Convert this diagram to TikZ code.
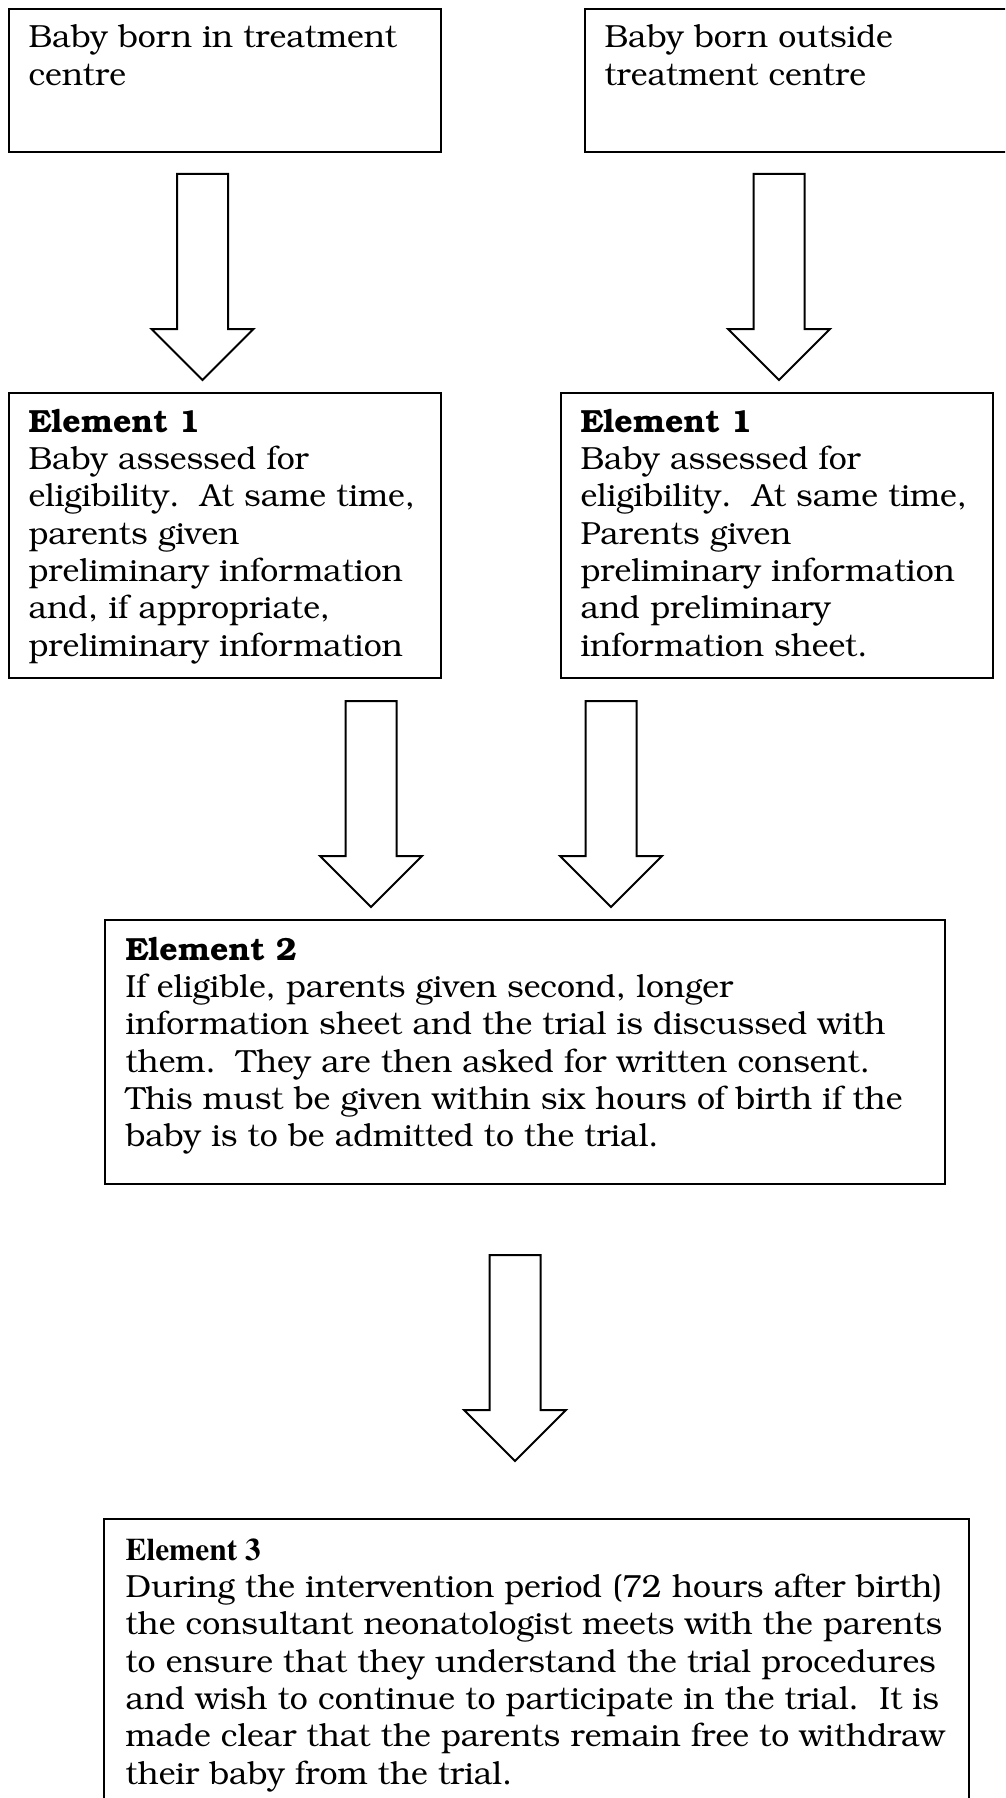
\documentclass[tikz,border=0pt]{standalone}
\usepackage[T1]{fontenc}
\usepackage{bookman}
\tikzset{
  box/.style={draw, line width=0.75pt, inner sep=0pt, anchor=north west},
  txt/.style={inner sep=0pt, anchor=base west, font=\fontsize{12}{14}\selectfont},
  blockarrow/.pic={\draw[line width=0.75pt, line join=miter]
     (-25.5,0) -- (25.5,0) -- (25.5,155) -- (51,155) -- (0,206) -- (-51,155) -- (-25.5,155) -- cycle;}
}
\newcommand{\elthree}{{\fontfamily{ptm}\fontseries{b}\fontsize{11.8}{14}\selectfont Element 3}}
\begin{document}
\begin{tikzpicture}[x=0.375pt, y=-0.375pt]
\clip (0,0) rectangle (1005,1798);
\fill[white] (0,0) rectangle (1005,1798);
% boxes
\node[box, minimum width=432*0.375pt, minimum height=143*0.375pt] (bA) at (8,8) {};
\node[box, minimum width=440*0.375pt, minimum height=143*0.375pt] (bB) at (584,8) {};
\node[box, minimum width=432*0.375pt, minimum height=285*0.375pt] (bC) at (8,392) {};
\node[box, minimum width=432*0.375pt, minimum height=285*0.375pt] (bD) at (560,392) {};
\node[box, minimum width=840*0.375pt, minimum height=264*0.375pt] (bE) at (104,919) {};
\node[box, minimum width=865*0.375pt, minimum height=320*0.375pt] (bF) at (103,1518) {};
% texts
\node[txt] (tA) at (28,48) {\parbox[t]{420pt}{Baby born in treatment\\centre}};
\node[txt] (tB) at (604,48) {\parbox[t]{420pt}{Baby born outside\\treatment centre}};
\node[txt] (tC) at (28,432) {\parbox[t]{420pt}{\textbf{Element 1}\\Baby assessed for\\eligibility.\ \ At same time,\\parents given\\preliminary information\\and, if appropriate,\\preliminary information}};
\node[txt] (tD) at (580,432) {\parbox[t]{420pt}{\textbf{Element 1}\\Baby assessed for\\eligibility.\ \ At same time,\\Parents given\\preliminary information\\and preliminary\\information sheet.}};
\node[txt] (tE) at (125,960) {\parbox[t]{420pt}{\textbf{Element 2}\\If eligible, parents given second, longer\\information sheet and the trial is discussed with\\them.\ \ They are then asked for written consent.\\This must be given within six hours of birth if the\\baby is to be admitted to the trial.}};
\node[txt] (tF) at (125,1560) {\parbox[t]{420pt}{\elthree\\During the intervention period (72 hours after birth)\\the consultant neonatologist meets with the parents\\to ensure that they understand the trial procedures\\and wish to continue to participate in the trial.\ \ It is\\made clear that the parents remain free to withdraw\\their baby from the trial.}};
% block arrows
\pic (a1) at (202.5,174) {blockarrow};
\pic (a2) at (779,174) {blockarrow};
\pic (a3) at (371,701) {blockarrow};
\pic (a4) at (611,701) {blockarrow};
\pic (a5) at (515,1255) {blockarrow};
\end{tikzpicture}
\end{document}
